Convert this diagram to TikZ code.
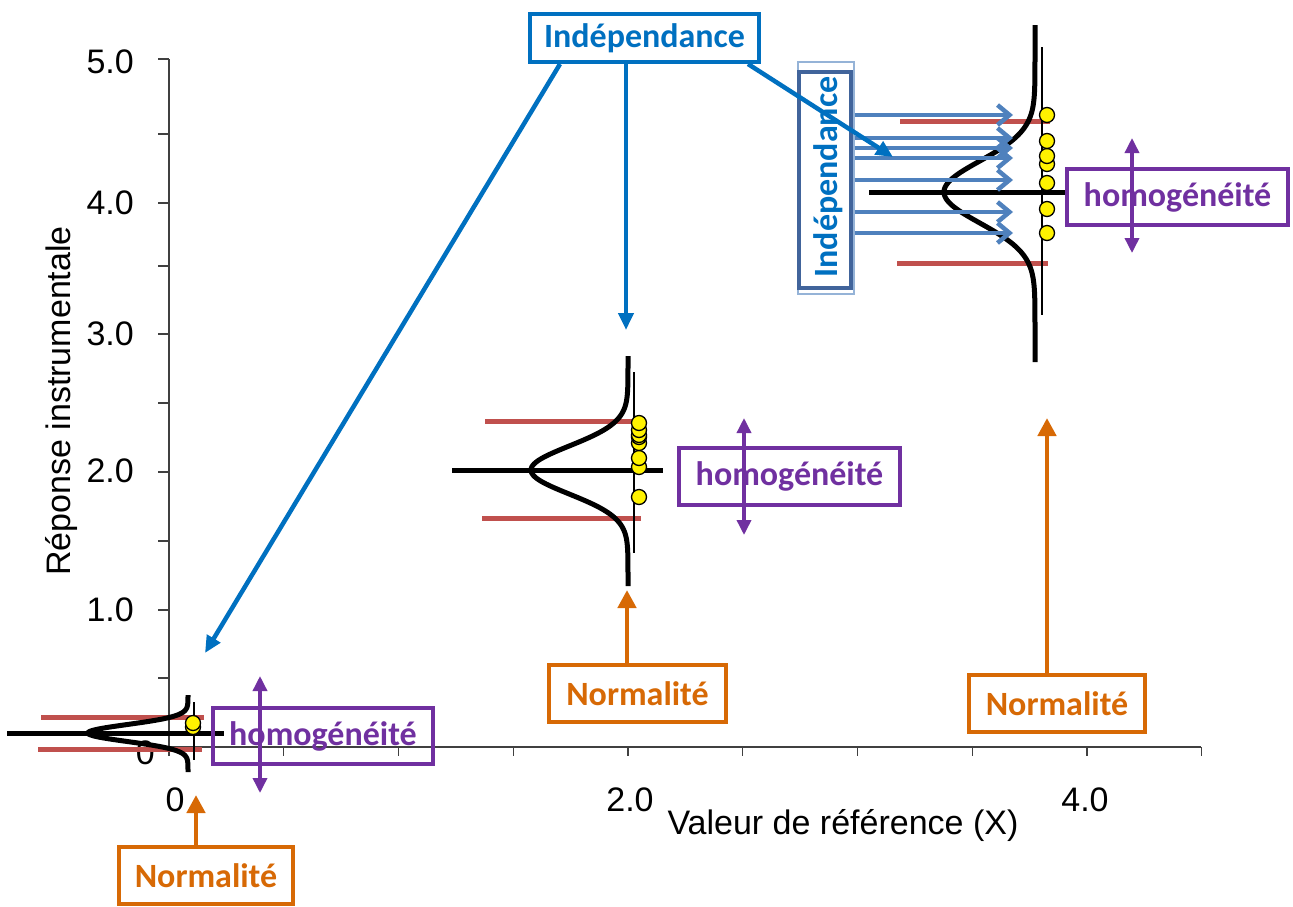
\documentclass[tikz,border=0pt]{standalone}
\usepackage{fontspec}
\setmainfont{Liberation Sans}
\newfontfamily\calib{Carlito}
\usetikzlibrary{arrows.meta}

\definecolor{bleu}{RGB}{0,112,192}
\definecolor{bleuclair}{RGB}{79,129,189}
\definecolor{bleucadre}{RGB}{65,100,155}
\definecolor{bleupale}{RGB}{149,179,215}
\definecolor{violet}{RGB}{112,48,160}
\definecolor{orangeN}{RGB}{215,105,5}
\definecolor{rouge}{RGB}{192,80,77}

\begin{document}
\begin{tikzpicture}[x=1pt,y=-1pt,
  every node/.style={font=\fontsize{34}{40}\selectfont,inner sep=0pt},
  axe/.style={line width=1.3pt,black!75},
  courbe/.style={line width=5pt,black},
  fin/.style={line width=2.5pt,black},
  limite/.style={line width=5pt,rouge},
  mesure/.style={circle,draw=black,line width=1.3pt,fill=yellow,minimum size=15pt},
  boite/.style={line width=4pt,font=\calib\bfseries\fontsize{34}{40}\selectfont},
  indep/.style={boite,draw=bleu,text=bleu,fill=white},
  homog/.style={boite,draw=violet,text=violet},
  norm/.style={boite,draw=orangeN,text=orangeN,fill=white},
  lien indep/.style={line width=4.5pt,bleu,-{Triangle[length=17pt,width=15pt]}},
  lien norm/.style={line width=4.5pt,orangeN,-{Triangle[length=18pt,width=18pt]}},
  lien homog/.style={line width=3.5pt,violet,{Triangle[length=15pt,width=14pt]}-{Triangle[length=15pt,width=14pt]}},
  essai/.style={line width=4.5pt,bleuclair,-{Straight Barb[length=12pt,width=20pt]}}]

  \useasboundingbox (0,0) rectangle (1293,906);

  % axes
  \draw[axe] (169,59) -- (169,747) -- (1201,747);
  \foreach \y in {59,134,203,266,334,403,472,541,610,678,747}
    \draw[axe] (158,\y) -- (169,\y);
  \foreach \k in {0,...,9}
    \draw[axe] ({169+114.75*\k},747) -- ({169+114.75*\k},756);
  \foreach \v/\y in {5.0/62,4.0/203,3.0/334,2.0/471,1.0/610}
    \node[anchor=east] (y\v) at (134,\y) {\v};
  \node[anchor=east] (y0) at (155,753) {0};
  \node (x0) at (175,800) {0};
  \node (x2) at (630,800) {2.0};
  \node (x4) at (1085,800) {4.0};
  \node (titrex) at (843,825) {Valeur de référence (X)};
  \node[rotate=90] (titrey) at (62,401) {Réponse instrumentale};

  % X = 0
  \draw[limite] (41,717) -- (204,717);
  \draw[limite] (38,749) -- (202,749);
  \draw[courbe] (7,733) -- (224,733);
  \draw[courbe] plot[domain=-38:39,samples=121] ({188-100*exp(-(\x/8.5)^2/2)},{733+\x});
  \draw[fin] (194,702) -- (194,760);
  \foreach \y [count=\i] in {727,723}
    \node[mesure] (m0-\i) at (193,\y) {};

  % X = 2
  \draw[limite] (485,421) -- (637,421);
  \draw[limite] (482,518) -- (641,518);
  \draw[courbe] (452,470) -- (663,470);
  \draw[courbe] plot[domain=-114:116,samples=161] ({628-97*exp(-(\x/24)^2/2)},{470+\x});
  \draw[fin] (634,372) -- (634,553);
  \foreach \y [count=\i] in {497,467,458,443,437,435,430,423}
    \node[mesure] (m2-\i) at (639,\y) {};

  % X = 4
  \draw[limite] (900,121) -- (1050,121);
  \draw[limite] (897,263) -- (1048,263);
  \draw[courbe] (869,192) -- (1066,192);
  \draw[courbe] plot[domain=-167:170,samples=201] ({1035-91*exp(-(\x/31)^2/2)},{192+\x});
  \draw[fin] (1042,47) -- (1042,315);
  \foreach \y [count=\i] in {233,209,183,164,156,141,115}
    \node[mesure] (m4-\i) at (1047,\y) {};

  % independance
  \node[draw=bleupale,line width=1.5pt,minimum width=56pt,minimum height=232pt] (indvc) at (826,178) {};
  \node[draw=bleucadre,line width=3.5pt,minimum width=52pt,minimum height=216pt] (indv) at (825,180) {};
  \node[rotate=90,text=bleu,font=\calib\bfseries\fontsize{34}{40}\selectfont] (indvt) at (828,177) {Indépendance};
  \foreach \y [count=\i] in {115,138,148,158,180,212,233} {
    \coordinate (b\i) at (1013,\y);
    \draw[essai] (indvc.east |- b\i) -- (b\i);
  }
  \node[indep,minimum width=229pt,minimum height=48pt] (ind) at (644.5,38) {Indépendance};
  \coordinate (i0) at (205,653);
  \coordinate (i2) at (626,330);
  \coordinate (i4) at (893,157);
  \draw[lien indep] (ind.south -| 560,0) -- (i0);
  \draw[lien indep] (ind.south -| i2) -- (i2);
  \draw[lien indep] (ind.south -| 748,0) -- (i4);

  % homogeneite
  \node[homog,minimum width=220pt,minimum height=56pt] (h0) at (323,736) {homogénéité};
  \node[homog,minimum width=221pt,minimum height=57pt] (h2) at (789.5,476.5) {homogénéité};
  \node[homog,minimum width=221pt,minimum height=56pt] (h4) at (1177.5,197) {homogénéité};
  \coordinate (h0a) at (260,676); \coordinate (h0b) at (260,793);
  \coordinate (h2a) at (744,418); \coordinate (h2b) at (744,535);
  \coordinate (h4a) at (1132,138); \coordinate (h4b) at (1132,253);
  \draw[lien homog] (h0a) -- (h0b);
  \draw[lien homog] (h2a) -- (h2b);
  \draw[lien homog] (h4a) -- (h4b);

  % normalite
  \node[norm,minimum width=174pt,minimum height=57pt] (n0) at (206,875.5) {Normalité};
  \node[norm,minimum width=177pt,minimum height=57pt] (n2) at (637.5,693.5) {Normalité};
  \node[norm,minimum width=176pt,minimum height=57pt] (n4) at (1057,703.5) {Normalité};
  \coordinate (t0) at (196,795);
  \coordinate (t2) at (627,590);
  \coordinate (t4) at (1047,418);
  \draw[lien norm] (n0.north -| t0) -- (t0);
  \draw[lien norm] (n2.north -| t2) -- (t2);
  \draw[lien norm] (n4.north -| t4) -- (t4);
\end{tikzpicture}
\end{document}
